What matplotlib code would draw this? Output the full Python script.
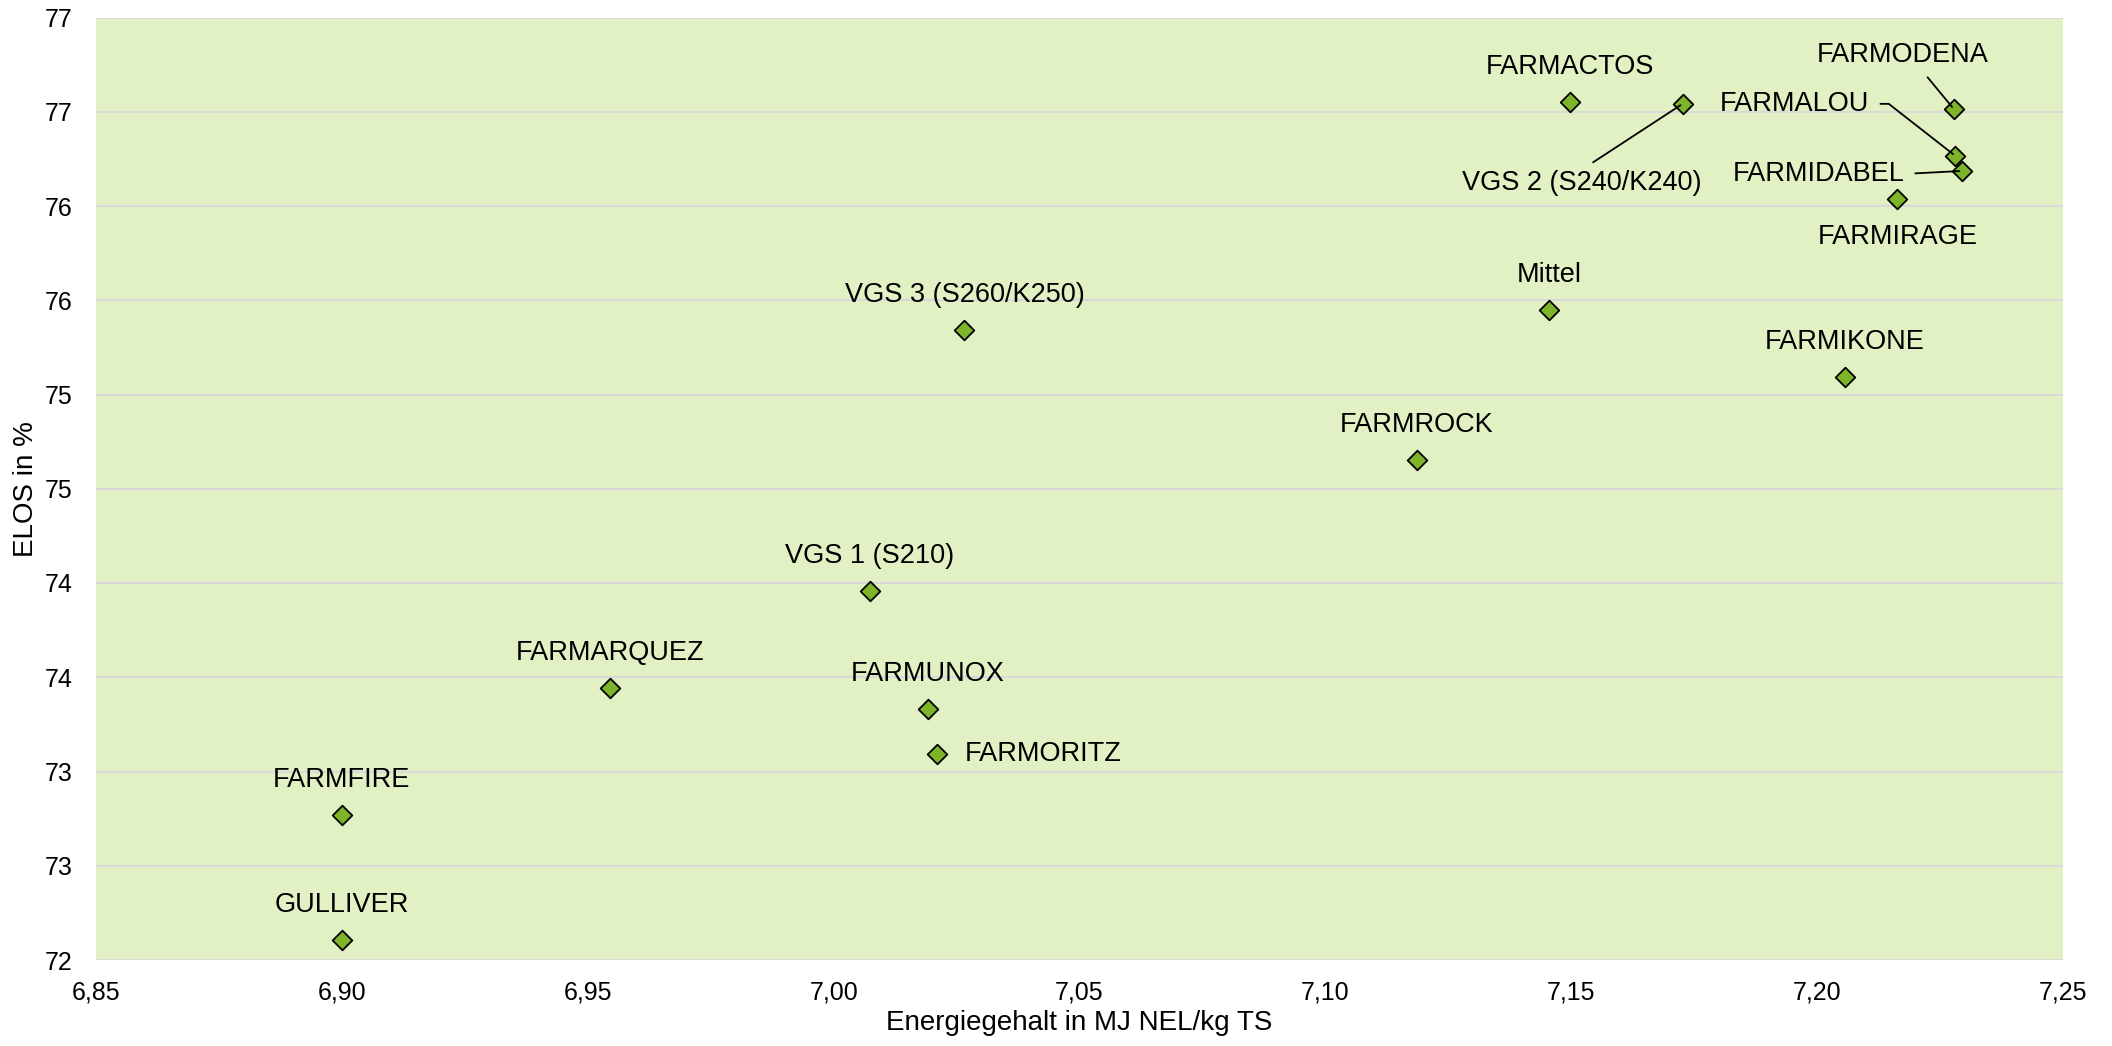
import numpy as np
import matplotlib
matplotlib.use("Agg")
import matplotlib.pyplot as plt

plt.rcParams['font.family'] = ['Liberation Sans', 'DejaVu Sans']

names = ["GULLIVER", "FARMFIRE", "FARMARQUEZ", "VGS 1 (S210)", "FARMUNOX", "FARMORITZ",
         "VGS 3 (S260/K250)", "FARMROCK", "Mittel", "FARMIKONE", "FARMACTOS",
         "VGS 2 (S240/K240)", "FARMODENA", "FARMALOU", "FARMIDABEL", "FARMIRAGE"]
energie = [6.900, 6.900, 6.9545, 7.0073, 7.0192, 7.0211,
           7.0266, 7.1186, 7.1455, 7.2057, 7.1497,
           7.1727, 7.2278, 7.2281, 7.2295, 7.2163]
elos = [72.107, 72.771, 73.443, 73.957, 73.329, 73.093,
        75.343, 74.650, 75.450, 75.093, 76.550,
        76.543, 76.514, 76.266, 76.186, 76.036]

x_ticks = [6.85, 6.90, 6.95, 7.00, 7.05, 7.10, 7.15, 7.20, 7.25]
y_ticks = [72.0, 72.5, 73.0, 73.5, 74.0, 74.5, 75.0, 75.5, 76.0, 76.5, 77.0]

# label placement: (dx, dy in pixels, ha, va, leader line?, connection style)
label_pos = {
    "FARMORITZ": (27, 0, "left", "center", False, None),
    "FARMODENA": (-51, 54, "center", "center", True, "arc3"),
    "FARMALOU": (-86, 52, "right", "center", True, "angle,angleA=0,angleB=142,rad=0"),
    "FARMIDABEL": (-58, -3, "right", "center", True, "arc3"),
    "FARMIRAGE": (0, -38, "center", "center", False, None),
    "VGS 2 (S240/K240)": (-101, -79, "center", "center", True, "arc3"),
}

fig = plt.figure(figsize=(21.12, 10.46), dpi=100)
ax = fig.add_axes([96/2112, 1-960/1046, (2063-96)/2112, (960-17.5)/1046])
ax.set_facecolor('#E1F1C4')
ax.set_xlim(6.85, 7.25)
ax.set_ylim(72, 77)
ax.set_xticks(x_ticks)
ax.set_yticks(y_ticks)
ax.set_xticklabels([f"{v:.2f}".replace('.', ',') for v in x_ticks])
ax.set_yticklabels([str(int(np.floor(v + 0.5))) for v in y_ticks])
ax.tick_params(axis='both', length=0, labelsize=18)
ax.tick_params(axis='y', pad=17)
ax.tick_params(axis='x', pad=15)
for s in ax.spines.values():
    s.set_visible(False)
ax.grid(axis='y', color='#D9D9D9', linewidth=1.5)
ax.set_axisbelow(True)

ax.scatter(energie, elos, marker='D', s=10**2, facecolor='#7DB42A',
           edgecolor='black', linewidth=1.3, zorder=3, clip_on=False)

for n, x, y in zip(names, energie, elos):
    if n in label_pos:
        dx, dy, ha, va, leader, cs = label_pos[n]
    else:
        dx, dy, ha, va, leader, cs = (0, 35, "center", "center", False, None)
    kw = {}
    if leader:
        if n == "FARMODENA":
            rel = (0.6, 0.0)
        elif n == "VGS 2 (S240/K240)":
            rel = (0.5, 1.0)
        else:
            rel = (1.0, 0.5)
        kw['arrowprops'] = dict(arrowstyle='-', color='black', lw=1.3,
                                connectionstyle=cs, relpos=rel,
                                shrinkA=6, shrinkB=2)
    ax.annotate(n, xy=(x, y), xytext=(dx, dy), textcoords='offset pixels',
                ha=ha, va=va, fontsize=19.5, color='black', zorder=4, **kw)

ax.set_xlabel("Energiegehalt in MJ NEL/kg TS", fontsize=20, labelpad=4)
ax.set_ylabel("ELOS in %", fontsize=20, labelpad=4)

fig.savefig("out.png", dpi=100)
